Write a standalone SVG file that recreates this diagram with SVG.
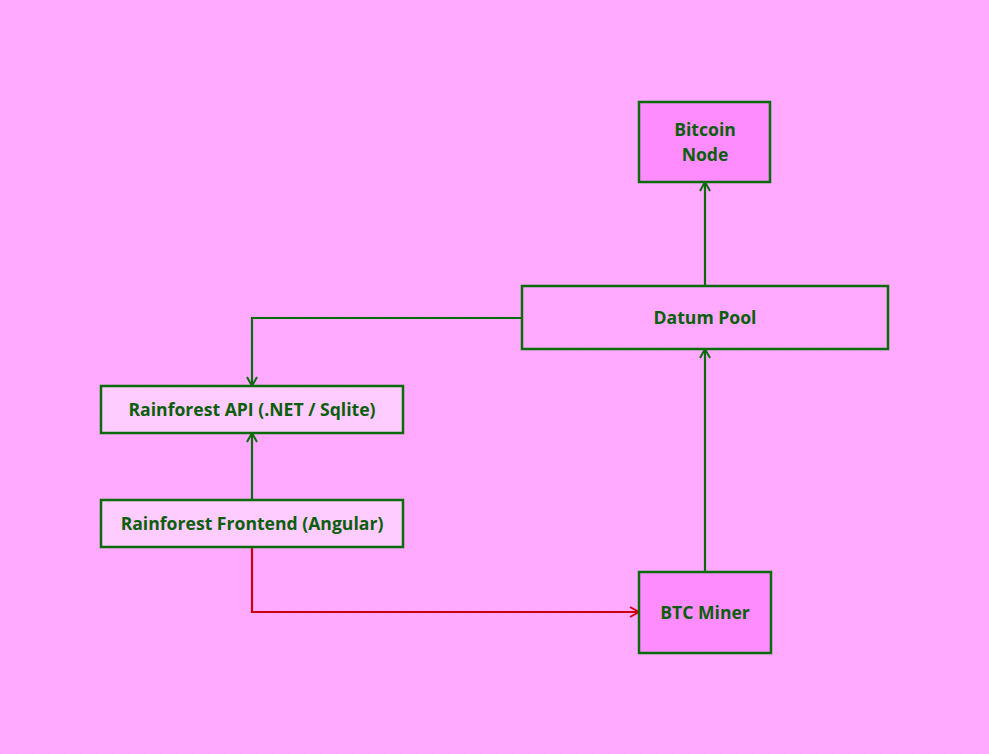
<svg xmlns="http://www.w3.org/2000/svg" width="989" height="754" viewBox="0 0 989 754">
<style>
.node rect{stroke:#0b6b0b;stroke-width:2.5}
.node text{font-family:"Open Sans","Liberation Sans",sans-serif;font-weight:700;font-size:17.6px;fill:#0b5e0b;text-anchor:middle;dominant-baseline:central}
.edge{fill:none;stroke:#0b6b0b;stroke-width:2.2}
.edge.red{stroke:#cc0011}
</style>
<defs>
<pattern id="dots" x="0" y="-1" width="16" height="16" patternUnits="userSpaceOnUse">
<rect x="0" y="0" width="1.5" height="1.5" fill="#f9a0f9"/>
</pattern>
<marker id="ag" viewBox="0 0 12 12" refX="11" refY="6" markerWidth="12" markerHeight="12" markerUnits="userSpaceOnUse" orient="auto">
<path d="M2,1 L11,6 L2,11" fill="none" stroke="#0b6b0b" stroke-width="2"/>
</marker>
<marker id="ar" viewBox="0 0 12 12" refX="11" refY="6" markerWidth="12" markerHeight="12" markerUnits="userSpaceOnUse" orient="auto">
<path d="M2,1 L11,6 L2,11" fill="none" stroke="#cc0011" stroke-width="2"/>
</marker>
</defs>
<rect width="989" height="754" fill="#ffaaff"/>
<rect width="989" height="754" fill="url(#dots)"/>
<g id="connectors">
<path class="edge" d="M705,286 V182" marker-end="url(#ag)"/>
<path class="edge" d="M522,318 H252 V386" marker-end="url(#ag)"/>
<path class="edge" d="M252,500 V433" marker-end="url(#ag)"/>
<path class="edge" d="M705,572 V349" marker-end="url(#ag)"/>
<path class="edge red" d="M252,547 V612 H639" marker-end="url(#ar)"/>
</g>
<g id="bitcoin-node" class="node">
<rect x="639" y="102" width="131" height="80" fill="#ff8cff"/>
<text x="705" y="129">Bitcoin</text>
<text x="705" y="154">Node</text>
</g>
<g id="datum-pool" class="node">
<rect x="522" y="286" width="366" height="63" fill="#ffaaff"/>
<text x="705" y="317">Datum Pool</text>
</g>
<g id="rainforest-api" class="node">
<rect x="101" y="386" width="302" height="47" fill="#ffccff"/>
<text x="252" y="409">Rainforest API (.NET / Sqlite)</text>
</g>
<g id="rainforest-frontend" class="node">
<rect x="101" y="500" width="302" height="47" fill="#ffccff"/>
<text x="252" y="523">Rainforest Frontend (Angular)</text>
</g>
<g id="btc-miner" class="node">
<rect x="639" y="572" width="132" height="81" fill="#ff8cff"/>
<text x="705" y="612">BTC Miner</text>
</g>
</svg>
